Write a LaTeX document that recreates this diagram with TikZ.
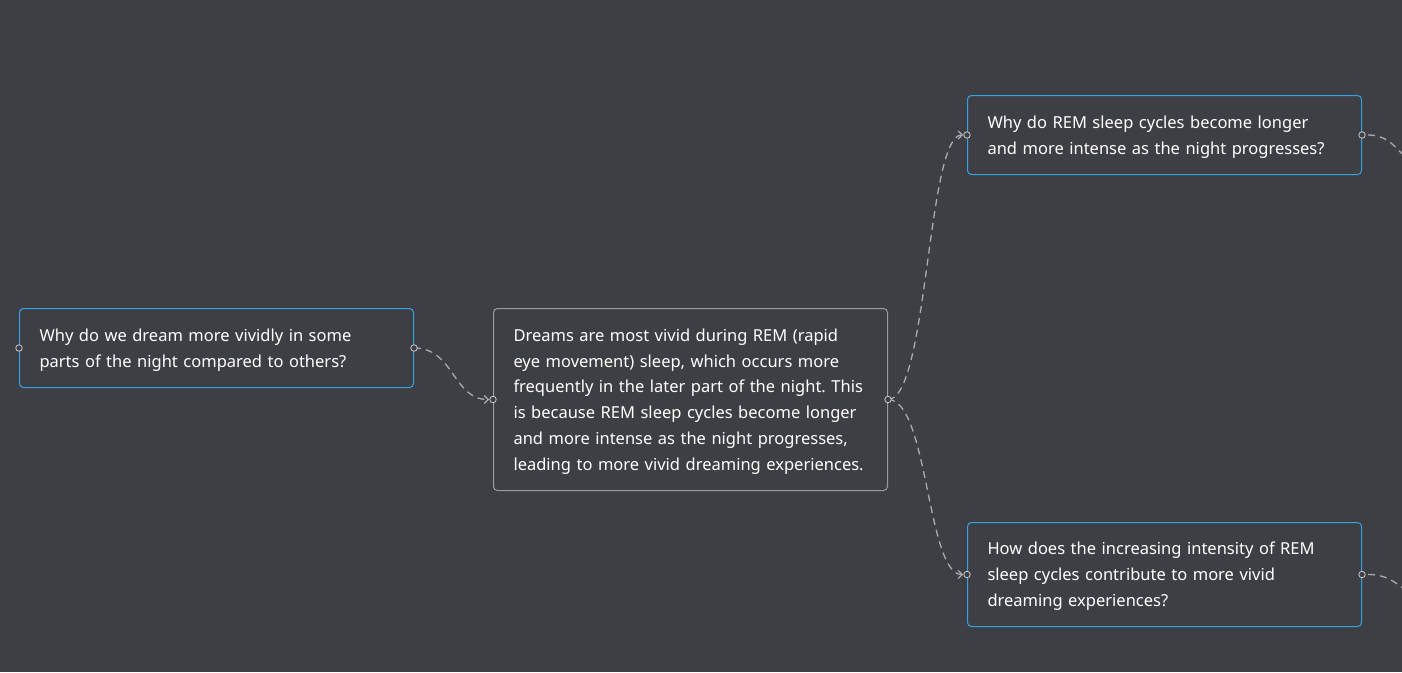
\documentclass[tikz,border=0pt]{standalone}
\usepackage{fontspec}
\setmainfont{Noto Sans}
\usetikzlibrary{arrows.meta}
\frenchspacing
\definecolor{bg}{HTML}{3E3F45}
\definecolor{blueedge}{HTML}{35A2E4}
\definecolor{grayedge}{HTML}{9C9C9E}
\definecolor{linkcol}{HTML}{ABABAD}
\definecolor{portcol}{HTML}{C9C9CB}
\definecolor{txt}{HTML}{FFFFFF}
\tikzset{
  card/.style={draw, line width=1pt, rounded corners=4pt, anchor=north west,
    minimum width=394pt, text width=354pt, inner xsep=20pt, inner ysep=0pt,
    align=left, text=txt, font=\fontsize{16.5}{25.8}\selectfont,
    execute at begin node={\rule{0pt}{16.5pt}}},
  qcard/.style={card, draw=blueedge},
  acard/.style={card, draw=grayedge},
  link/.style={draw=linkcol, line width=1.3pt, dash pattern=on 7pt off 5pt,
    -{Straight Barb[length=4pt,width=8pt,line width=1.2pt]}, shorten >=4pt},
  linkopen/.style={draw=linkcol, line width=1.3pt, dash pattern=on 7pt off 5pt, shorten <=6pt},
  port/.style={circle, draw=portcol, fill=bg, line width=0.8pt, inner sep=0pt, minimum size=6.5pt}
}
\begin{document}
\begin{tikzpicture}[x=1pt,y=-1pt]
\useasboundingbox (0,0) rectangle (1402,672);
\fill[bg] (0,0) rectangle (1402,672);
\begin{scope}
\clip (0,0) rectangle (1402,672);
\node[qcard, minimum height=79pt] (A) at (19,308) {Why do we dream more vividly in some\\parts of the night compared to others?};
\node[acard, minimum height=182pt] (B) at (493,308) {Dreams are most vivid during REM (rapid\\eye movement) sleep, which occurs more\\frequently in the later part of the night. This\\is because REM sleep cycles become longer\\and more intense as the night progresses,\\leading to more vivid dreaming experiences.};
\node[qcard, minimum width=393pt, minimum height=79pt] (C) at (967,95) {Why do REM sleep cycles become longer\\and more intense as the night progresses?};
\node[qcard, minimum width=393pt, minimum height=104pt] (D) at (967,522) {How does the increasing intensity of REM\\sleep cycles contribute to more vivid\\dreaming experiences?};
\coordinate (Cnext) at (1440,172);
\coordinate (Dnext) at (1440,600);
\draw[link] (A.east) .. controls +(40,0) and +(-40,0) .. (B.west);
\draw[link] (B.east) .. controls +(40,0) and +(-40,0) .. (C.west);
\draw[link] (B.east) .. controls +(40,0) and +(-40,0) .. (D.west);
\draw[linkopen] (C.east) .. controls +(40,0) and +(-40,0) .. (Cnext);
\draw[linkopen] (D.east) .. controls +(40,0) and +(-40,0) .. (Dnext);
\foreach \n in {A,B,C,D}{
  \node[port] at (\n.west) {};
  \node[port] at (\n.east) {};
}
\end{scope}
\end{tikzpicture}
\end{document}
